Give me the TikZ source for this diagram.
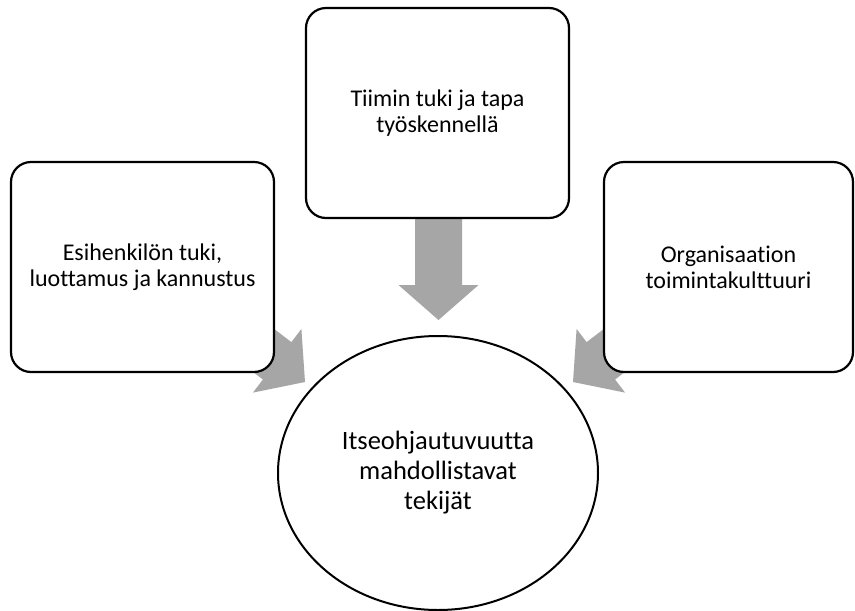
\documentclass[tikz,border=0pt]{standalone}
\usepackage{fontspec}
\setmainfont{Carlito}[Ligatures=NoCommon]
\usetikzlibrary{shapes.geometric}

\definecolor{arrowgray}{HTML}{A6A6A6}

\tikzset{
  factorbox/.style={draw=black, line width=2.2pt, fill=white, rounded corners=20pt,
    align=center, inner sep=0pt, minimum height=210pt,
    font=\fontsize{24}{26}\selectfont},
  goalcircle/.style={ellipse, draw=black, line width=2pt, fill=white,
    align=center, inner sep=0pt, minimum width=320pt, minimum height=274pt,
    font=\fontsize{26.5}{30}\selectfont},
  blockarrow/.pic={
    \fill[arrowgray] (0,0) -- (-35,40) -- (-35,23.5) -- (-115,23.5)
      -- (-115,-23.5) -- (-35,-23.5) -- (-35,-40) -- cycle;
  }
}

\begin{document}
\begin{tikzpicture}[x=1pt, y=-1pt]
  \useasboundingbox (0,0) rectangle (855,611);
  \fill[white] (0,0) rectangle (855,611);

  % tips of the three block arrows
  \coordinate (tipL) at (305,382);
  \coordinate (tipT) at (438.5,320);
  \coordinate (tipR) at (573,382);

  \pic[rotate=-37.3] at (tipL) {blockarrow};
  \pic[rotate=-90] at (tipT) {blockarrow};
  \pic[rotate=-142.7] at (tipR) {blockarrow};

  % contributing factors
  \node[factorbox, minimum width=263pt] (lead) at (142.5,267)
    {Esihenkilön tuki,\\luottamus ja kannustus};
  \node[factorbox, minimum width=263pt] (team) at (437.5,113)
    {Tiimin tuki ja tapa\\työskennellä};
  \node[factorbox, minimum width=249pt] (org) at (728.5,267)
    {Organisaation\\toimintakulttuuri};

  % outcome
  \node[goalcircle] (self) at (438,473)
    {Itseohjautuvuutta\\mahdollistavat\\tekijät};
\end{tikzpicture}
\end{document}
